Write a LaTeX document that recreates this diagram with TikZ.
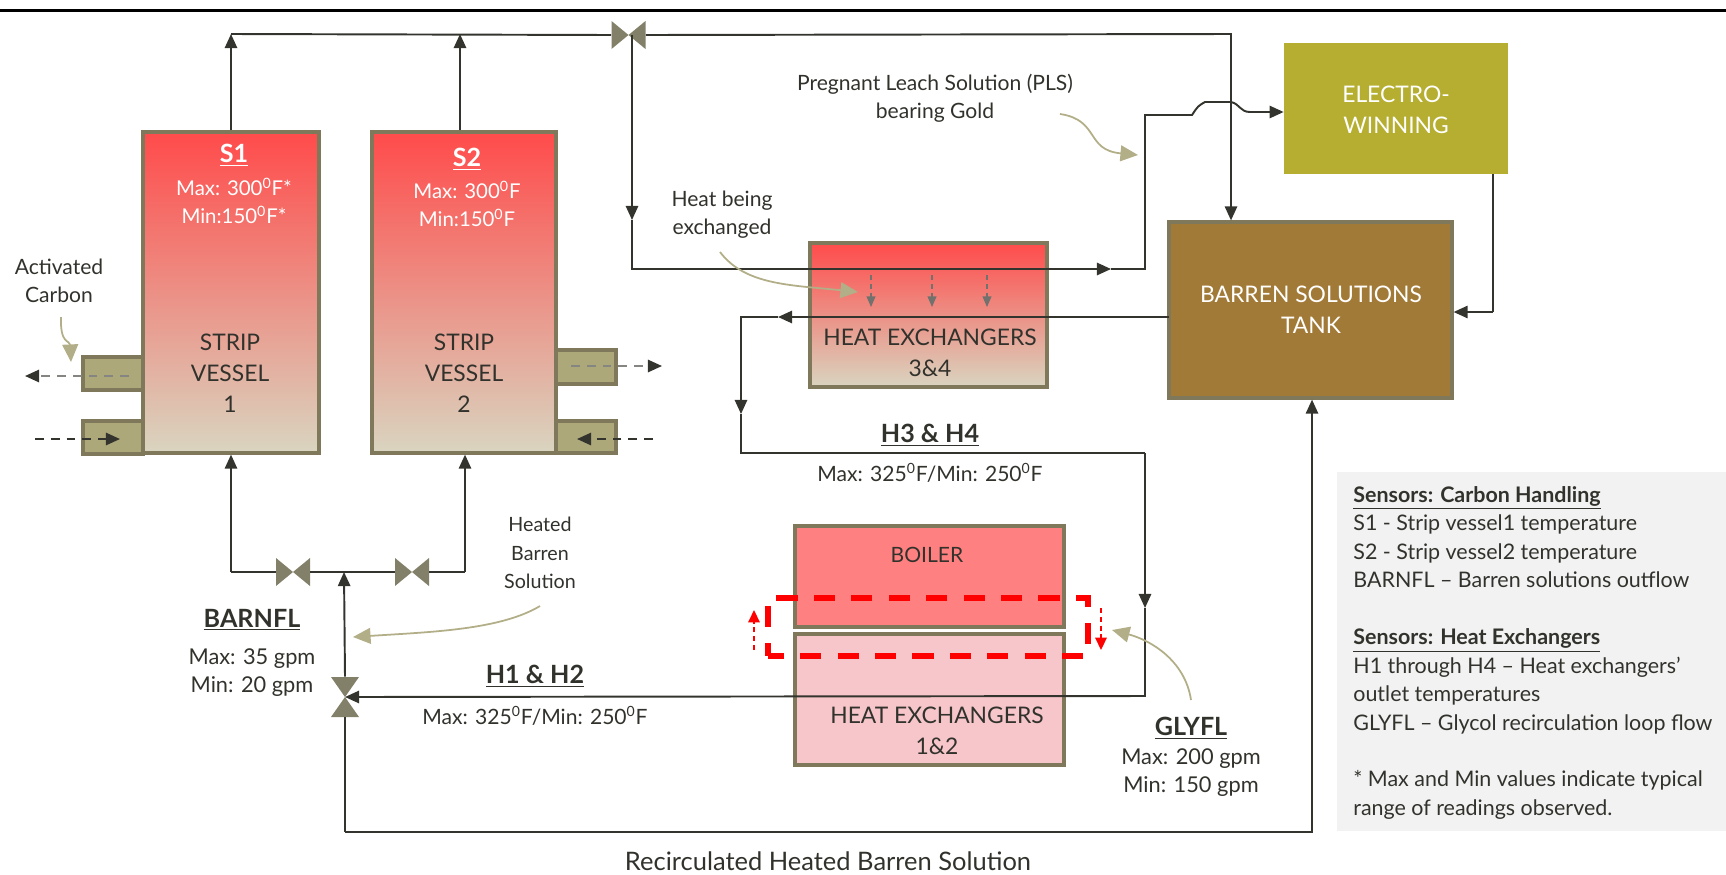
\documentclass[tikz,border=0pt]{standalone}
\usepackage{fontspec}
\setmainfont{Lato}
\usepackage{xcolor}
\usetikzlibrary{arrows.meta,positioning}
\definecolor{pipeC}{RGB}{52,52,46}
\definecolor{edgeC}{RGB}{128,120,90}
\definecolor{stubC}{RGB}{172,168,122}
\definecolor{noteC}{RGB}{178,174,135}
\definecolor{valveC}{RGB}{130,128,105}
\definecolor{hotT}{RGB}{255,75,75}
\definecolor{hotM}{RGB}{236,140,132}
\definecolor{hotB}{RGB}{217,213,192}
\definecolor{boilC}{RGB}{255,128,128}
\definecolor{coolC}{RGB}{246,198,203}
\definecolor{winC}{RGB}{181,174,48}
\definecolor{tankC}{RGB}{162,122,55}
\definecolor{legC}{RGB}{242,242,242}
\definecolor{textC}{RGB}{50,50,45}
\newcommand{\degF}{\textsuperscript{0}F}

\begin{document}
\begin{tikzpicture}[
  x=0.2mm, y=-0.2mm, >={Stealth[length=8pt,width=7pt,inset=0pt]},
  font=\fontsize{12}{16}\selectfont, text=textC,
  box/.style={rectangle, draw=edgeC, line width=1.8pt, inner sep=0pt},
  vessel/.style={box, top color=hotT, middle color=hotM, bottom color=hotB},
  stub/.style={box, fill=stubC},
  pipe/.style={line width=1.1pt, draw=pipeC},
  feed/.style={pipe, dash pattern=on 5pt off 4pt, ->},
  feedpale/.style={feed, draw=pipeC!60, >={Stealth[length=8pt,width=7pt,inset=0pt,color=pipeC]}},
  note/.style={line width=1pt, draw=noteC, -{Stealth[length=10pt,width=9pt,inset=0pt]}},
  valveh/.style={rectangle, inner sep=0pt, minimum width=6.8mm, minimum height=5.6mm,
     path picture={\fill[valveC] (path picture bounding box.north west) -- (path picture bounding box.south east)
        -- (path picture bounding box.north east) -- (path picture bounding box.south west) -- cycle;}},
  valvev/.style={rectangle, inner sep=0pt, minimum width=5.6mm, minimum height=8mm,
     path picture={\fill[valveC] (path picture bounding box.north west) -- (path picture bounding box.north east)
        -- (path picture bounding box.south west) -- (path picture bounding box.south east) -- cycle;}},
  heading/.style={font=\fontsize{14.3}{16}\selectfont\bfseries},
  unit/.style={font=\fontsize{13}{17.5}\selectfont, align=center},
  white/.style={text=white}]

  \useasboundingbox (0,0) rectangle (1726,874);
  \fill[black] (0,9) rectangle (1726,12);

  % legend goes first, the tank riser runs next to it
  \node[rectangle, fill=legC, inner sep=0pt, minimum width=77.8mm, minimum height=71.8mm] (legend) at (1531.5,651.5) {};
  \node[anchor=north west, align=left, inner sep=0pt, font=\fontsize{12.2}{16.2}\selectfont] (legendtext) at (1353,486)
    {\underline{\textbf{Sensors: Carbon Handling}}\\
     S1 - Strip vessel1 temperature\\
     S2 - Strip vessel2 temperature\\
     BARNFL -- Barren solutions outflow\\[16.2pt]
     \underline{\textbf{Sensors: Heat Exchangers}}\\
     H1 through H4 -- Heat exchangers'\\
     outlet temperatures\\
     GLYFL -- Glycol recirculation loop flow\\[16.2pt]
     * Max and Min values indicate typical\\
     range of readings observed.};

  % vessels and their stubs
  \node[stub, minimum width=12mm, minimum height=6.6mm] (st1) at (113,373.5) {};
  \node[stub, minimum width=12mm, minimum height=6.6mm] (st2) at (113,437.5) {};
  \node[stub, minimum width=12mm, minimum height=6.8mm] (st3) at (586,367) {};
  \node[stub, minimum width=12mm, minimum height=6.4mm] (st4) at (586,437) {};
  \node[vessel, minimum width=35.2mm, minimum height=64.2mm] (s1) at (231,292.5) {};
  \node[vessel, minimum width=36.8mm, minimum height=64.2mm] (s2) at (464,292.5) {};

  \node[white, heading] (s1name) at (234,155) {\underline{S1}};
  \node[white, align=center, font=\fontsize{11.6}{16}\selectfont] (s1lim) at (234,201) {Max: 300\degF*\\Min:150\degF*};
  \node[unit] (s1txt) at (230,373) {STRIP\\VESSEL\\1};
  \node[white, heading] (s2name) at (467,159) {\underline{S2}};
  \node[white, align=center, font=\fontsize{11.6}{16}\selectfont] (s2lim) at (467,204) {Max: 300\degF\\Min:150\degF};
  \node[unit] (s2txt) at (464,373) {STRIP\\VESSEL\\2};

  % process boxes
  \node[vessel, minimum width=47.4mm, minimum height=28.8mm] (he34) at (928.5,315) {};
  \node[box, fill=boilC, minimum width=53.8mm, minimum height=20.2mm] (boil) at (929.5,576.5) {};
  \node[box, fill=coolC, minimum width=53.8mm, minimum height=26.2mm] (he12) at (929.5,699.5) {};
  \node[rectangle, fill=winC, minimum width=44.8mm, minimum height=26.2mm] (ew) at (1396,108.5) {};
  \node[box, fill=tankC, minimum width=56.6mm, minimum height=35.2mm] (tank) at (1310.5,310) {};

  \node[unit] (he34txt) at (930,353) {HEAT EXCHANGERS\\3\&4};
  \node[unit, font=\fontsize{12}{17}\selectfont] (boiltxt) at (927,555) {BOILER};
  \node[unit] (he12txt) at (937,731) {HEAT EXCHANGERS\\1\&2};
  \node[unit, white] (ewtxt) at (1396,110) {ELECTRO-\\WINNING};
  \node[unit, white] (tanktxt) at (1311,310) {BARREN SOLUTIONS\\TANK};

  % valves
  \node[valveh] (vtop) at (628.5,35) {};
  \node[valveh] (vleft) at (293,572) {};
  \node[valveh] (vright) at (412,572) {};
  \node[valvev] (vmix) at (345,697) {};

  % joints of the pipe runs
  \coordinate (buss1) at (231,34);
  \coordinate (buss2) at (460,34);
  \coordinate (busend) at (1231,34);
  \coordinate (drop) at (632,35);
  \coordinate (dropmid) at (632,220);
  \coordinate (he34in) at (1111,269);
  \coordinate (plscorner) at (1145,269);
  \coordinate (plsturn) at (1145,115);
  \coordinate (humpa) at (1192,115);
  \coordinate (humpb) at (1205,102);
  \coordinate (humpc) at (1231,102);
  \coordinate (humpd) at (1250,112);
  \coordinate (tankout) at (1169,317);
  \coordinate (tankoutmid) at (778,317);
  \coordinate (he34turn) at (741,317);
  \coordinate (h3mid) at (741,414);
  \coordinate (h3low) at (741,453);
  \coordinate (h3right) at (1145,453);
  \coordinate (glymid) at (1145,608);
  \coordinate (glylow) at (1145,696);
  \coordinate (recircl) at (345,832);
  \coordinate (recircr) at (1312,832);
  \coordinate (manl) at (231,572);
  \coordinate (manr) at (465,572);
  \coordinate (manmid) at (344,572);
  \coordinate (winout) at (1493,174);
  \coordinate (wintank) at (1493,312);

  \draw[pipe,->] (buss1 |- s1.north) -- (buss1);
  \draw[pipe,->] (buss2 |- s2.north) -- (buss2);
  \draw[pipe] (buss1) -- (vtop.west);
  \draw[pipe,->] (vtop.east) -- (busend) -- (busend |- tank.north);
  \draw[pipe,->] (drop) -- (dropmid);
  \draw[pipe,->] (dropmid) |- (he34in);
  \draw[pipe] (he34in) -- (plscorner) -- (plsturn) -- (humpa) .. controls (1198,106) .. (humpb) -- (humpc)
     .. controls (1240,104) and (1240,112) .. (humpd);
  \draw[pipe,->] (humpd) -- (humpd -| ew.west);
  \draw[pipe] (winout) -- (wintank);
  \draw[pipe,->] (wintank) -- (wintank -| tank.east);
  \draw[pipe,->] (tankout) -- (tankoutmid);
  \draw[pipe,->] (tankoutmid) -- (he34turn) -- (h3mid);
  \draw[pipe] (h3mid) -- (h3low) -- (h3right);
  \draw[pipe,->] (h3right) -- (glymid);
  \draw[pipe,->] (glymid) -- (glylow) -- (vmix.center);
  \draw[pipe] (vmix.south) -- (recircl);
  \draw[pipe,->] (recircl) -- (recircr) -- (recircr |- tank.south);
  \draw[pipe,->] (vmix.north) -- (manmid);
  \draw[pipe] (manl) -- (vleft.west) (vleft.east) -- (vright.west) (vright.east) -- (manr);
  \draw[pipe,->] (manl) -- (manl |- s1.south);
  \draw[pipe,->] (manr) -- (manr |- s2.south);

  % dashed feeds at the stubs
  \coordinate (f1a) at (129,376); \coordinate (f1b) at (25,376);
  \coordinate (f2a) at (35,439);  \coordinate (f2b) at (120,439);
  \coordinate (f3a) at (571,366); \coordinate (f3b) at (662,366);
  \coordinate (f4a) at (653,439); \coordinate (f4b) at (577,439);
  \draw[feedpale] (f1a) -- (f1b);
  \draw[feed] (f2a) -- (f2b);
  \draw[feedpale] (f3a) -- (f3b);
  \draw[feed] (f4a) -- (f4b);

  % heat going down through exchangers 3 and 4
  \foreach \hx/\hn in {871/a,932/b,987/c}{
    \coordinate (heat\hn a) at (\hx,275);
    \coordinate (heat\hn b) at (\hx,307);
    \draw[line width=0.7pt, draw=pipeC!70, densely dashed, -{Stealth[length=6pt,width=5pt,inset=0pt]}] (heat\hn a) -- (heat\hn b);
  }

  % glycol loop
  \node[rectangle, draw=red, line width=2.9pt, dash pattern=on 12pt off 9.3pt, dash phase=3pt,
        minimum width=64mm, minimum height=11.6mm] (loop) at (928,627) {};
  \coordinate (upa) at (754,650); \coordinate (upb) at (754,610);
  \coordinate (dna) at (1101,608); \coordinate (dnb) at (1101,650);
  \draw[line width=0.9pt, draw=red, densely dashed, -{Stealth[length=7pt,width=6.5pt,inset=0pt]}] (upa) -- (upb);
  \draw[line width=0.9pt, draw=red, densely dashed, -{Stealth[length=7pt,width=6.5pt,inset=0pt]}] (dna) -- (dnb);

  % callouts
  \coordinate (pa) at (1060,114);  \coordinate (pb) at (1138,155);
  \coordinate (ha) at (720,252);   \coordinate (hb) at (858,292);
  \coordinate (ca) at (61,317);    \coordinate (cb) at (71,362);
  \coordinate (ba) at (540,606);   \coordinate (bb) at (353,637);
  \coordinate (ga) at (1191,700);  \coordinate (gb) at (1112,630);
  \draw[note] (pa) .. controls (1100,120) and (1085,150) .. (pb);
  \draw[note] (ha) .. controls (745,285) and (790,285) .. (hb);
  \draw[note] (ca) .. controls (60,345) and (70,340) .. (cb);
  \draw[note] (ba) .. controls (500,630) and (430,632) .. (bb);
  \draw[note] (ga) .. controls (1185,660) and (1150,640) .. (gb);

  % labels
  \node[align=center] (pls) at (935,98) {Pregnant Leach Solution (PLS)\\bearing Gold};
  \node[align=center] (heatlab) at (722,215) {Heat being\\exchanged};
  \node[align=center] (carbon) at (59,281) {Activated\\Carbon};
  \node[align=center, font=\fontsize{11.2}{16.2}\selectfont] (heated) at (540,553) {Heated\\Barren\\Solution};
  \node[heading] (barnfl) at (252,620) {\underline{BARNFL}};
  \node[align=center, font=\fontsize{12.4}{16}\selectfont] (barnlim) at (252,673) {Max: 35 gpm\\Min: 20 gpm};
  \node[heading] (h12) at (535,676) {\underline{H1 \& H2}};
  \node (h12lim) at (535,716) {Max: 325\degF/Min: 250\degF};
  \node[heading] (h34) at (930,435) {\underline{H3 \& H4}};
  \node (h34lim) at (930,473) {Max: 325\degF/Min: 250\degF};
  \node[heading] (glyfl) at (1191,728) {\underline{GLYFL}};
  \node[align=center, font=\fontsize{12.4}{16}\selectfont] (glylim) at (1191,773) {Max: 200 gpm\\Min: 150 gpm};
  \node[font=\fontsize{14.5}{16}\selectfont] (recirctxt) at (828,861) {Recirculated Heated Barren Solution};
\end{tikzpicture}
\end{document}
